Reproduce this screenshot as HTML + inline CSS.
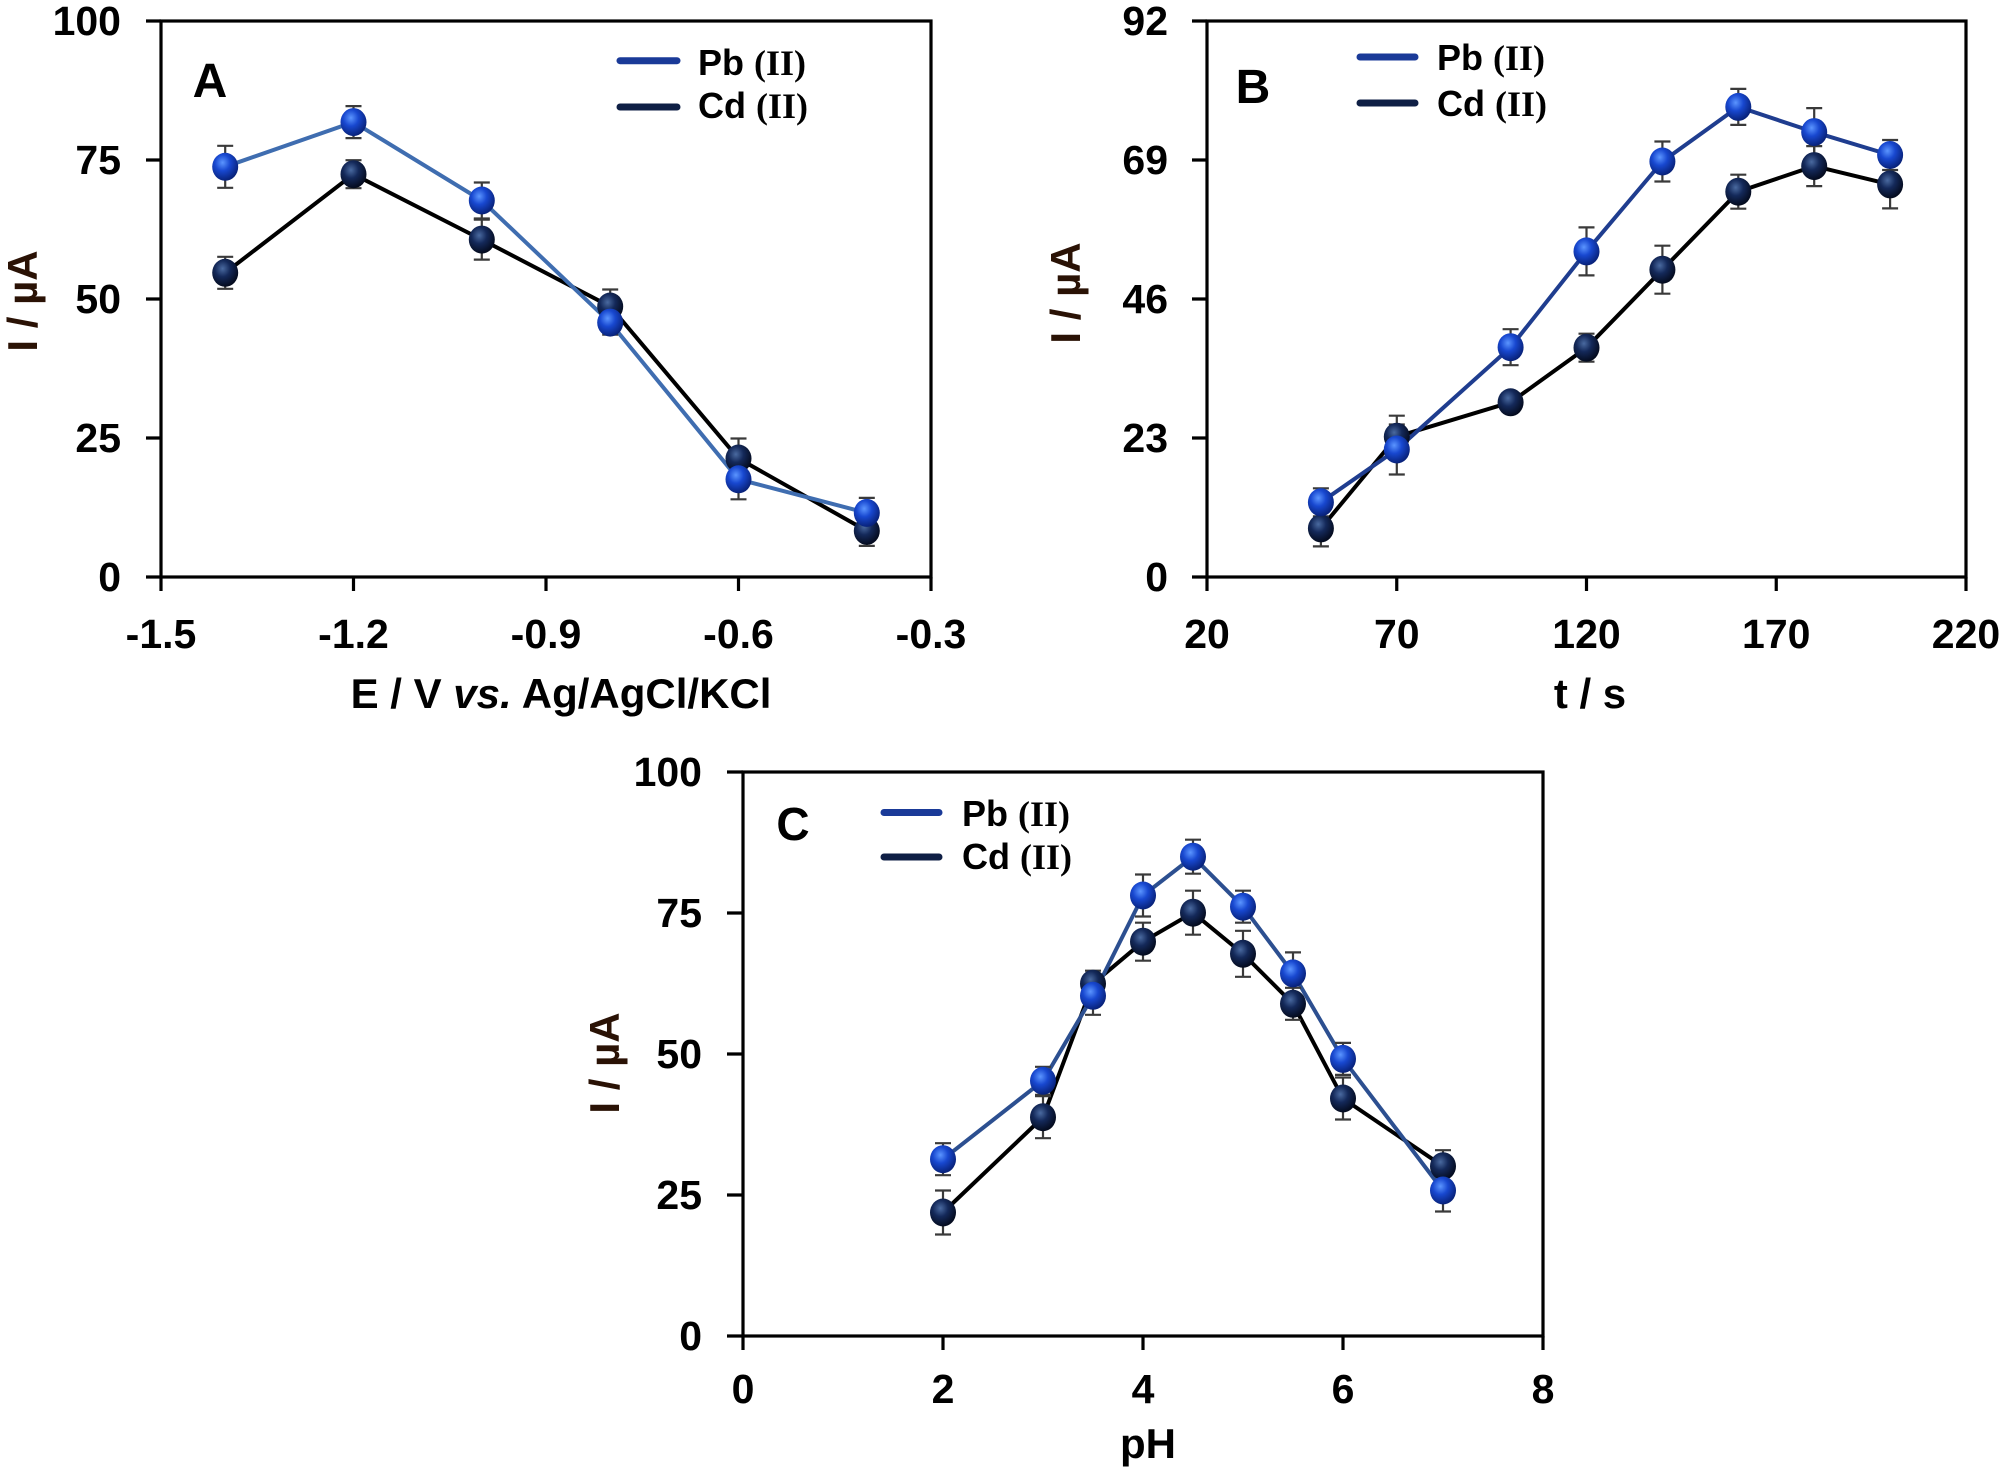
<!DOCTYPE html>
<html><head><meta charset="utf-8"><style>
html,body{margin:0;padding:0;background:#fff;}
svg{display:block;}
text{font-family:"Liberation Sans",Arial,sans-serif;font-weight:bold;fill:#000;}
.tk{font-size:41px;}
.ttl{font-size:42px;}
.lg{font-size:36px;}
.sr{font-family:"Liberation Serif","Times New Roman",serif;}
.ax{fill:none;stroke:#000;stroke-width:3.2;}
.eb{fill:none;stroke:#3a3a3a;stroke-width:2.2;}
</style></head><body>
<svg width="2008" height="1472" viewBox="0 0 2008 1472" xmlns="http://www.w3.org/2000/svg">
<defs>
<radialGradient id="gpb" cx="0.4" cy="0.35" r="0.65">
<stop offset="0" stop-color="#5b95ff"/><stop offset="0.45" stop-color="#1848d0"/><stop offset="1" stop-color="#08227a"/>
</radialGradient>
<radialGradient id="gcd" cx="0.4" cy="0.35" r="0.65">
<stop offset="0" stop-color="#4a6aa0"/><stop offset="0.45" stop-color="#14295a"/><stop offset="1" stop-color="#040b1e"/>
</radialGradient>
</defs>
<rect width="2008" height="1472" fill="#fff"/>

<!-- ================= PANEL A ================= -->
<rect class="ax" x="161" y="21" width="770" height="556"/>
<path class="ax" d="M146 21H161 M146 160H161 M146 299H161 M146 438H161 M146 577H161 M161 577V591 M353.5 577V591 M546 577V591 M738.5 577V591 M931 577V591"/>
<g class="tk" text-anchor="end">
<text x="121" y="35">100</text><text x="121" y="174">75</text><text x="121" y="313">50</text><text x="121" y="452">25</text><text x="121" y="591">0</text>
</g>
<g class="tk" text-anchor="middle">
<text x="161" y="648">-1.5</text><text x="353.5" y="648">-1.2</text><text x="546" y="648">-0.9</text><text x="738.5" y="648">-0.6</text><text x="931" y="648">-0.3</text>
</g>
<text class="ttl" x="561" y="708" text-anchor="middle">E / V <tspan font-style="italic">vs.</tspan> Ag/AgCl/KCl</text>
<text class="ttl" transform="translate(37,301) rotate(-90)" text-anchor="middle" style="fill:#2a1205">I / µA</text>
<text x="210" y="97" text-anchor="middle" font-size="48">A</text>
<line x1="620" y1="60.7" x2="677" y2="60.7" stroke="#1a3a98" stroke-width="7" stroke-linecap="round"/>
<line x1="620" y1="107" x2="677" y2="107" stroke="#0f1f45" stroke-width="7" stroke-linecap="round"/>
<text class="lg" x="698" y="75">Pb <tspan class="sr">(II)</tspan></text>
<text class="lg" x="698" y="118">Cd <tspan class="sr">(II)</tspan></text>

<polyline fill="none" stroke="#000" stroke-width="4" points="225.2,272.8 353.5,174.2 481.8,239.6 610.2,306.5 738.5,458.5 866.8,530.9"/>
<polyline fill="none" stroke="#3f6db0" stroke-width="4" points="225.2,166.8 353.5,122.1 481.8,200.5 610.2,322.6 738.5,479.3 866.8,512.9"/>
<path class="eb" d="M225.2 145.8V187.8 M217.2 145.8H233.2 M217.2 187.8H233.2 M353.5 106.1V138.1 M345.5 106.1H361.5 M345.5 138.1H361.5 M481.8 182.5V218.5 M473.8 182.5H489.8 M473.8 218.5H489.8 M610.2 310.6V334.6 M602.2 310.6H618.2 M602.2 334.6H618.2 M738.5 459.3V499.3 M730.5 459.3H746.5 M730.5 499.3H746.5 M866.8 497.9V527.9 M858.8 497.9H874.8 M858.8 527.9H874.8"/>
<path class="eb" d="M225.2 256.8V288.8 M217.2 256.8H233.2 M217.2 288.8H233.2 M353.5 160.2V188.2 M345.5 160.2H361.5 M345.5 188.2H361.5 M481.8 219.6V259.6 M473.8 219.6H489.8 M473.8 259.6H489.8 M610.2 289.5V323.5 M602.2 289.5H618.2 M602.2 323.5H618.2 M738.5 438.5V478.5 M730.5 438.5H746.5 M730.5 478.5H746.5 M866.8 515.9V545.9 M858.8 515.9H874.8 M858.8 545.9H874.8"/>
<g fill="url(#gcd)">
<ellipse cx="225.2" cy="272.8" rx="13" ry="14"/><ellipse cx="353.5" cy="174.2" rx="13" ry="14"/><ellipse cx="481.8" cy="239.6" rx="13" ry="14"/><ellipse cx="610.2" cy="306.5" rx="13" ry="14"/><ellipse cx="738.5" cy="458.5" rx="13" ry="14"/><ellipse cx="866.8" cy="530.9" rx="13" ry="14"/>
</g>
<g fill="url(#gpb)">
<ellipse cx="225.2" cy="166.8" rx="13" ry="14"/><ellipse cx="353.5" cy="122.1" rx="13" ry="14"/><ellipse cx="481.8" cy="200.5" rx="13" ry="14"/><ellipse cx="610.2" cy="322.6" rx="13" ry="14"/><ellipse cx="738.5" cy="479.3" rx="13" ry="14"/><ellipse cx="866.8" cy="512.9" rx="13" ry="14"/>
</g>

<!-- ================= PANEL B ================= -->
<rect class="ax" x="1207" y="21" width="759" height="556"/>
<path class="ax" d="M1192 21H1207 M1192 160H1207 M1192 299H1207 M1192 438H1207 M1192 577H1207 M1207 577V591 M1396.75 577V591 M1586.5 577V591 M1776.25 577V591 M1966 577V591"/>
<g class="tk" text-anchor="end">
<text x="1168" y="35">92</text><text x="1168" y="174">69</text><text x="1168" y="313">46</text><text x="1168" y="452">23</text><text x="1168" y="591">0</text>
</g>
<g class="tk" text-anchor="middle">
<text x="1207" y="648">20</text><text x="1396.75" y="648">70</text><text x="1586.5" y="648">120</text><text x="1776.25" y="648">170</text><text x="1966" y="648">220</text>
</g>
<text class="ttl" x="1590" y="708" text-anchor="middle">t / s</text>
<text class="ttl" transform="translate(1080,293) rotate(-90)" text-anchor="middle" style="fill:#2a1205">I / µA</text>
<text x="1253" y="103" text-anchor="middle" font-size="48">B</text>
<line x1="1360" y1="57" x2="1415" y2="57" stroke="#1a3a98" stroke-width="7" stroke-linecap="round"/>
<line x1="1360" y1="103" x2="1415" y2="103" stroke="#0f1f45" stroke-width="7" stroke-linecap="round"/>
<text class="lg" x="1437" y="70">Pb <tspan class="sr">(II)</tspan></text>
<text class="lg" x="1437" y="116">Cd <tspan class="sr">(II)</tspan></text>

<polyline fill="none" stroke="#000" stroke-width="4" points="1320.9,528.4 1396.8,436.7 1510.6,402.3 1586.5,347.7 1662.4,269.7 1738.3,191.7 1814.2,166.1 1890.1,184.4"/>
<polyline fill="none" stroke="#1f3d8f" stroke-width="4" points="1320.9,502.3 1396.8,449.5 1510.6,347.2 1586.5,251.4 1662.4,161.5 1738.3,106.9 1814.2,132.1 1890.1,155"/>
<path class="eb" d="M1320.9 488.3V516.3 M1312.9 488.3H1328.9 M1312.9 516.3H1328.9 M1396.8 424.5V474.5 M1388.8 424.5H1404.8 M1388.8 474.5H1404.8 M1510.6 329.2V365.2 M1502.6 329.2H1518.6 M1502.6 365.2H1518.6 M1586.5 227.4V275.4 M1578.5 227.4H1594.5 M1578.5 275.4H1594.5 M1662.4 141.5V181.5 M1654.4 141.5H1670.4 M1654.4 181.5H1670.4 M1738.3 88.9V124.9 M1730.3 88.9H1746.3 M1730.3 124.9H1746.3 M1814.2 108.1V156.1 M1806.2 108.1H1822.2 M1806.2 156.1H1822.2 M1890.1 140V170 M1882.1 140H1898.1 M1882.1 170H1898.1"/>
<path class="eb" d="M1320.9 510.4V546.4 M1312.9 510.4H1328.9 M1312.9 546.4H1328.9 M1396.8 415.7V457.7 M1388.8 415.7H1404.8 M1388.8 457.7H1404.8 M1510.6 394.3V410.3 M1502.6 394.3H1518.6 M1502.6 410.3H1518.6 M1586.5 333.7V361.7 M1578.5 333.7H1594.5 M1578.5 361.7H1594.5 M1662.4 245.7V293.7 M1654.4 245.7H1670.4 M1654.4 293.7H1670.4 M1738.3 174.7V208.7 M1730.3 174.7H1746.3 M1730.3 208.7H1746.3 M1814.2 146.1V186.1 M1806.2 146.1H1822.2 M1806.2 186.1H1822.2 M1890.1 160.4V208.4 M1882.1 160.4H1898.1 M1882.1 208.4H1898.1"/>
<g fill="url(#gcd)">
<ellipse cx="1320.9" cy="528.4" rx="13" ry="14"/><ellipse cx="1396.8" cy="436.7" rx="13" ry="14"/><ellipse cx="1510.6" cy="402.3" rx="13" ry="14"/><ellipse cx="1586.5" cy="347.7" rx="13" ry="14"/><ellipse cx="1662.4" cy="269.7" rx="13" ry="14"/><ellipse cx="1738.3" cy="191.7" rx="13" ry="14"/><ellipse cx="1814.2" cy="166.1" rx="13" ry="14"/><ellipse cx="1890.1" cy="184.4" rx="13" ry="14"/>
</g>
<g fill="url(#gpb)">
<ellipse cx="1320.9" cy="502.3" rx="13" ry="14"/><ellipse cx="1396.8" cy="449.5" rx="13" ry="14"/><ellipse cx="1510.6" cy="347.2" rx="13" ry="14"/><ellipse cx="1586.5" cy="251.4" rx="13" ry="14"/><ellipse cx="1662.4" cy="161.5" rx="13" ry="14"/><ellipse cx="1738.3" cy="106.9" rx="13" ry="14"/><ellipse cx="1814.2" cy="132.1" rx="13" ry="14"/><ellipse cx="1890.1" cy="155" rx="13" ry="14"/>
</g>

<!-- ================= PANEL C ================= -->
<rect class="ax" x="743" y="772" width="800" height="564"/>
<path class="ax" d="M727 772H743 M727 913H743 M727 1054H743 M727 1195H743 M727 1336H743 M743 1336V1350 M943 1336V1350 M1143 1336V1350 M1343 1336V1350 M1543 1336V1350"/>
<g class="tk" text-anchor="end">
<text x="702" y="786">100</text><text x="702" y="927">75</text><text x="702" y="1068">50</text><text x="702" y="1209">25</text><text x="702" y="1350">0</text>
</g>
<g class="tk" text-anchor="middle">
<text x="743" y="1403">0</text><text x="943" y="1403">2</text><text x="1143" y="1403">4</text><text x="1343" y="1403">6</text><text x="1543" y="1403">8</text>
</g>
<text class="ttl" x="1148" y="1458" text-anchor="middle">pH</text>
<text class="ttl" transform="translate(619,1063) rotate(-90)" text-anchor="middle" style="fill:#2a1205">I / µA</text>
<text x="793" y="840" text-anchor="middle" font-size="46">C</text>
<line x1="884" y1="812.5" x2="939" y2="812.5" stroke="#1a3a98" stroke-width="7" stroke-linecap="round"/>
<line x1="884" y1="857" x2="939" y2="857" stroke="#0f1f45" stroke-width="7" stroke-linecap="round"/>
<text class="lg" x="962" y="826">Pb <tspan class="sr">(II)</tspan></text>
<text class="lg" x="962" y="869">Cd <tspan class="sr">(II)</tspan></text>

<polyline fill="none" stroke="#000" stroke-width="4" points="943,1212.5 1043,1117.2 1093,983.7 1143,941.7 1193,912.7 1243,953.8 1293,1003.8 1343,1098.5 1443,1166.2"/>
<polyline fill="none" stroke="#2c4f90" stroke-width="4" points="943,1159.2 1043,1080.8 1093,995.8 1143,895.5 1193,856.7 1243,906.7 1293,973.4 1343,1058.9 1443,1190.5"/>
<path class="eb" d="M943 1143.2V1175.2 M935 1143.2H951 M935 1175.2H951 M1043 1066.8V1094.8 M1035 1066.8H1051 M1035 1094.8H1051 M1093 976.8V1014.8 M1085 976.8H1101 M1085 1014.8H1101 M1143 874.5V916.5 M1135 874.5H1151 M1135 916.5H1151 M1193 839.7V873.7 M1185 839.7H1201 M1185 873.7H1201 M1243 890.7V922.7 M1235 890.7H1251 M1235 922.7H1251 M1293 952.4V994.4 M1285 952.4H1301 M1285 994.4H1301 M1343 1042.9V1074.9 M1335 1042.9H1351 M1335 1074.9H1351 M1443 1169.5V1211.5 M1435 1169.5H1451 M1435 1211.5H1451"/>
<path class="eb" d="M943 1190.5V1234.5 M935 1190.5H951 M935 1234.5H951 M1043 1096.2V1138.2 M1035 1096.2H1051 M1035 1138.2H1051 M1093 970.7V996.7 M1085 970.7H1101 M1085 996.7H1101 M1143 922.7V960.7 M1135 922.7H1151 M1135 960.7H1151 M1193 890.7V934.7 M1185 890.7H1201 M1185 934.7H1201 M1243 930.8V976.8 M1235 930.8H1251 M1235 976.8H1251 M1293 987.8V1019.8 M1285 987.8H1301 M1285 1019.8H1301 M1343 1077.5V1119.5 M1335 1077.5H1351 M1335 1119.5H1351 M1443 1150.2V1182.2 M1435 1150.2H1451 M1435 1182.2H1451"/>
<g fill="url(#gcd)">
<ellipse cx="943" cy="1212.5" rx="13" ry="14"/><ellipse cx="1043" cy="1117.2" rx="13" ry="14"/><ellipse cx="1093" cy="983.7" rx="13" ry="14"/><ellipse cx="1143" cy="941.7" rx="13" ry="14"/><ellipse cx="1193" cy="912.7" rx="13" ry="14"/><ellipse cx="1243" cy="953.8" rx="13" ry="14"/><ellipse cx="1293" cy="1003.8" rx="13" ry="14"/><ellipse cx="1343" cy="1098.5" rx="13" ry="14"/><ellipse cx="1443" cy="1166.2" rx="13" ry="14"/>
</g>
<g fill="url(#gpb)">
<ellipse cx="943" cy="1159.2" rx="13" ry="14"/><ellipse cx="1043" cy="1080.8" rx="13" ry="14"/><ellipse cx="1093" cy="995.8" rx="13" ry="14"/><ellipse cx="1143" cy="895.5" rx="13" ry="14"/><ellipse cx="1193" cy="856.7" rx="13" ry="14"/><ellipse cx="1243" cy="906.7" rx="13" ry="14"/><ellipse cx="1293" cy="973.4" rx="13" ry="14"/><ellipse cx="1343" cy="1058.9" rx="13" ry="14"/><ellipse cx="1443" cy="1190.5" rx="13" ry="14"/>
</g>
</svg>
</body></html>
